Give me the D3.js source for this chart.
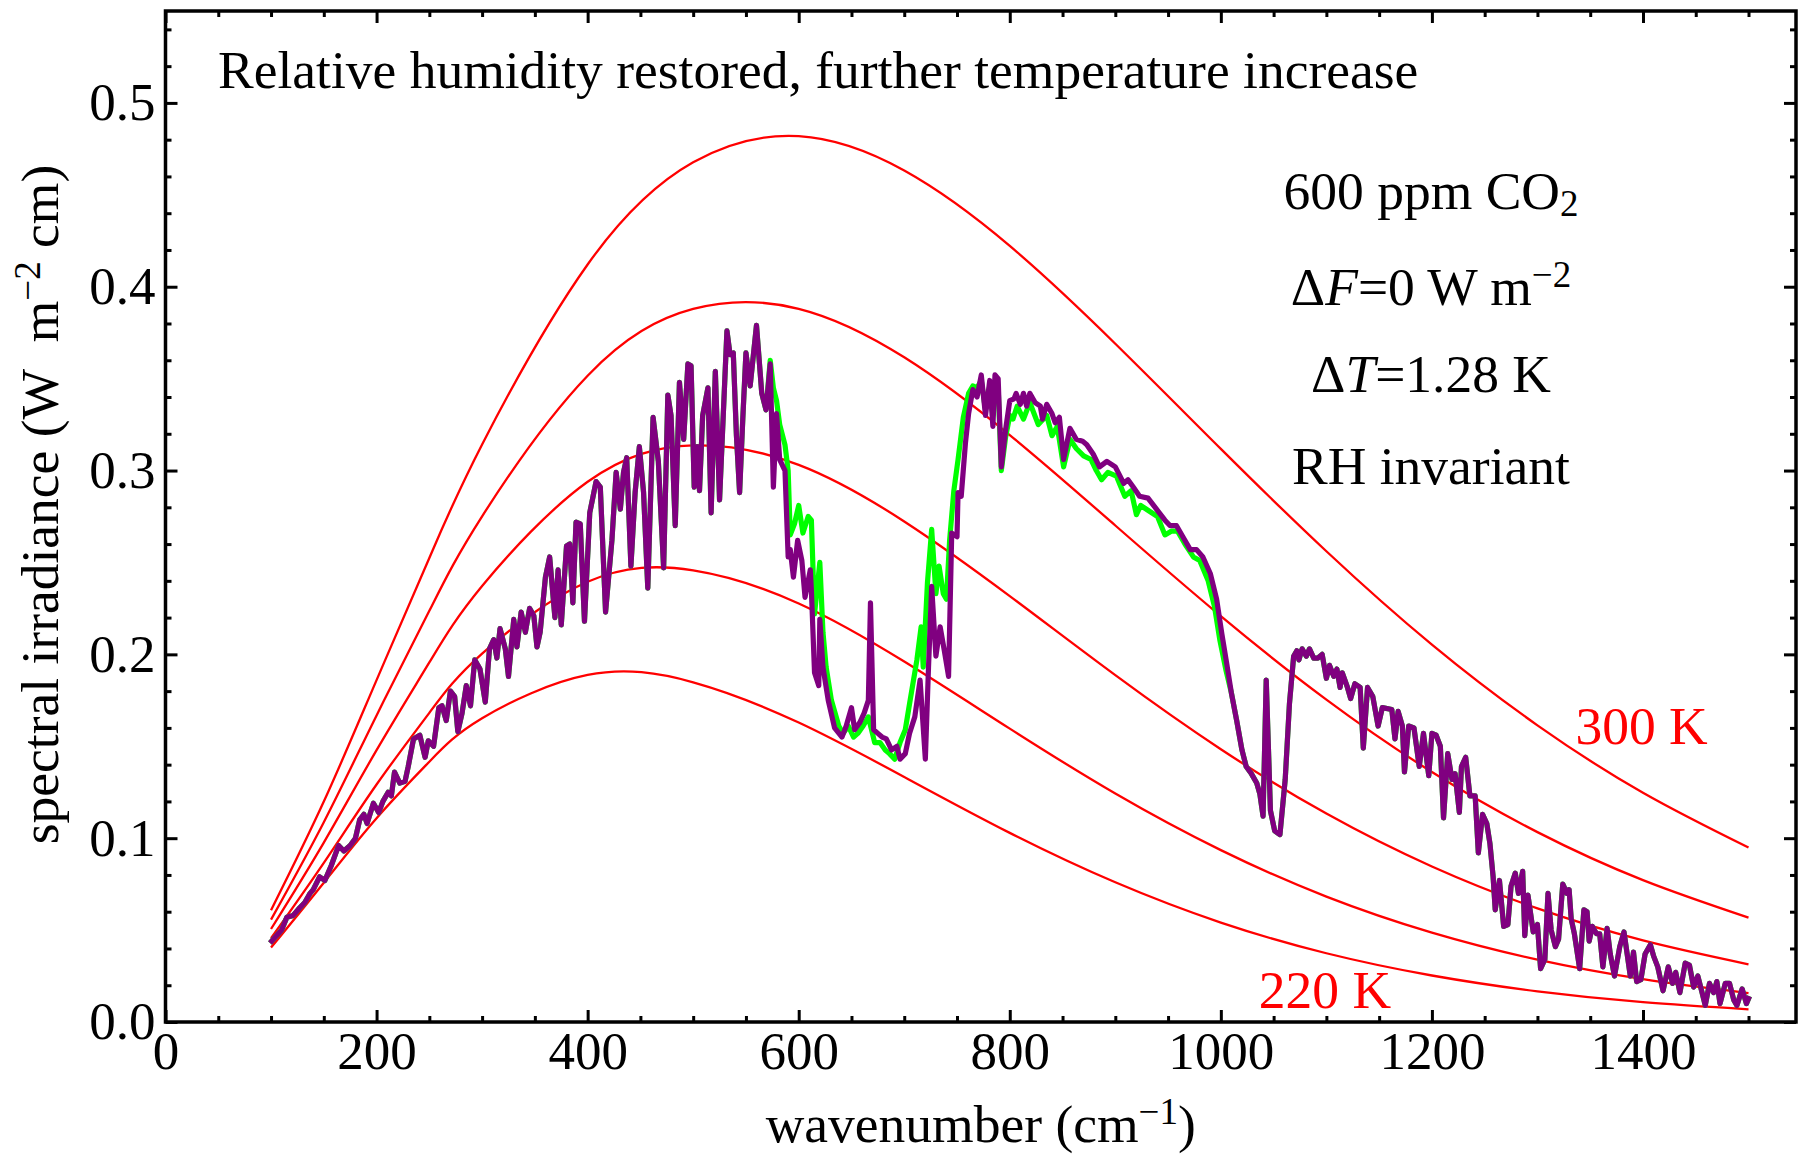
<!DOCTYPE html>
<html>
<head>
<meta charset="utf-8">
<script src="https://cdn.jsdelivr.net/npm/d3@7"></script>
<style>
  body { margin: 0; background: #fff; }
  text { font-family: "Liberation Serif", "Times New Roman", serif; }
</style>
</head>
<body>
<svg id="chart" width="1800" height="1157"></svg>
<script>
var bbWavenumber = [100,150,200,250,300,400,500,600,700,800,900,1000,1100,1200,1300,1400,1500];
var bb300 = [0.0608,0.1199,0.1860,0.2524,0.3142,0.4121,0.4677,0.4819,0.4632,0.4222,0.3690,0.3118,0.2561,0.2053,0.1614,0.1247,0.0949];
var bb280 = [0.0557,0.1087,0.1668,0.2237,0.2751,0.3516,0.3879,0.3880,0.3616,0.3193,0.2701,0.2208,0.1754,0.1360,0.1033,0.0772,0.0568];
var bb260 = [0.0506,0.0976,0.1479,0.1956,0.2372,0.2939,0.3137,0.3031,0.2723,0.2317,0.1887,0.1484,0.1134,0.0846,0.0618,0.0444,0.0314];
var bb240 = [0.0456,0.0866,0.1292,0.1682,0.2004,0.2395,0.2457,0.2277,0.1961,0.1596,0.1243,0.0935,0.0682,0.0486,0.0339,0.0233,0.0157];
var bb220 = [0.0405,0.0758,0.1109,0.1416,0.1652,0.1888,0.1848,0.1629,0.1333,0.1029,0.0760,0.0541,0.0374,0.0253,0.0167,0.0108,0.0069];

// purple spectrum: [wavenumber, spectral irradiance]
var purpleSpectrum = [
  [99,.043],[110,.050],[115,.057],[121,.058],[127,.062],[132,.065],[137,.070],[140,.072],[146,.079],[151,.077],
  [157,.085],[164,.096],[169,.093],[175,.096],[180,.100],[184,.110],[188,.113],[191,.108],[197,.119],[202,.114],
  [206,.120],[211,.125],[214,.123],[217,.136],[222,.130],[227,.131],[230,.139],[235,.154],[241,.156],[246,.144],
  [249,.153],[254,.150],[259,.171],[262,.172],[266,.164],[270,.180],[274,.177],[277,.158],[281,.168],[285,.183],
  [289,.172],[293,.197],[298,.192],[303,.174],[307,.203],[311,.208],[314,.198],[317,.214],[322,.203],[325,.188],
  [330,.219],[333,.204],[337,.223],[341,.212],[345,.225],[349,.221],[352,.204],[355,.212],[360,.242],[364,.253],
  [369,.220],[372,.246],[375,.216],[380,.259],[383,.260],[386,.228],[389,.272],[393,.271],[397,.218],[402,.277],
  [408,.294],[412,.291],[417,.223],[423,.262],[427,.299],[431,.279],[434,.299],[437,.307],[441,.248],[445,.288],
  [449,.313],[453,.288],[457,.236],[462,.329],[467,.305],[472,.247],[476,.341],[479,.330],[483,.270],[487,.348],
  [491,.317],[495,.358],[498,.357],[501,.291],[504,.313],[506,.289],[509,.330],[514,.345],[517,.277],[521,.354],
  [525,.284],[532,.376],[535,.363],[538,.364],[541,.319],[544,.288],[547,.328],[550,.364],[554,.346],[560,.379],
  [565,.342],[569,.333],[573,.358],[576,.291],[579,.331],[582,.306],[587,.300],[590,.253],[592,.257],[595,.242],
  [599,.262],[603,.251],[606,.231],[611,.246],[612,.235],[615,.190],[619,.183],[620,.219],[623,.193],[628,.175],
  [634,.160],[641,.155],[645,.161],[650,.171],[653,.159],[658,.163],[662,.168],[666,.175],[668,.228],[671,.159],
  [675,.157],[679,.155],[683,.154],[688,.148],[693,.150],[696,.143],[701,.146],[705,.157],[710,.166],[715,.186],
  [720,.143],[723,.193],[726,.237],[730,.199],[734,.215],[738,.202],[742,.188],[745,.266],[750,.264],[751,.288],
  [754,.286],[758,.315],[761,.331],[765,.344],[769,.340],[773,.352],[777,.330],[781,.349],[784,.324],[786,.352],
  [789,.350],[792,.302],[796,.322],[800,.338],[804,.339],[806,.342],[810,.336],[813,.342],[816,.335],[819,.342],
  [824,.337],[829,.335],[831,.328],[835,.336],[840,.331],[843,.326],[847,.329],[851,.306],[857,.323],[863,.317],
  [869,.316],[873,.314],[879,.309],[885,.302],[892,.305],[900,.302],[908,.293],[912,.295],[917,.291],[923,.286],
  [931,.285],[939,.279],[947,.273],[952,.270],[958,.270],[964,.264],[971,.257],[977,.257],[983,.253],[990,.244],
  [996,.230],[1001,.211],[1005,.197],[1010,.179],[1015,.164],[1020,.148],[1024,.139],[1029,.135],[1034,.130],[1037,.124],
  [1040,.112],[1043,.186],[1047,.115],[1051,.104],[1056,.102],[1061,.132],[1065,.173],[1069,.199],[1072,.202],[1074,.197],
  [1077,.203],[1081,.199],[1084,.203],[1088,.198],[1092,.198],[1096,.200],[1100,.187],[1103,.194],[1107,.188],[1110,.192],
  [1113,.182],[1115,.190],[1120,.182],[1123,.176],[1127,.184],[1132,.182],[1135,.149],[1139,.182],[1144,.177],[1149,.161],
  [1153,.171],[1162,.170],[1165,.154],[1168,.169],[1172,.161],[1174,.136],[1178,.161],[1183,.160],[1188,.139],[1192,.157],
  [1197,.134],[1200,.157],[1204,.156],[1208,.150],[1211,.111],[1215,.146],[1219,.132],[1222,.135],[1226,.114],[1228,.139],
  [1232,.144],[1236,.123],[1241,.123],[1244,.092],[1248,.113],[1252,.108],[1255,.097],[1258,.079],[1260,.061],[1264,.077],
  [1268,.052],[1272,.053],[1275,.074],[1279,.081],[1282,.070],[1286,.082],[1288,.047],[1291,.069],[1296,.049],[1300,.053],
  [1303,.029],[1307,.034],[1310,.070],[1313,.050],[1317,.041],[1320,.045],[1324,.075],[1328,.070],[1330,.072],[1332,.056],
  [1335,.048],[1340,.029],[1344,.061],[1347,.060],[1349,.044],[1352,.052],[1356,.048],[1359,.048],[1362,.030],[1366,.051],
  [1369,.037],[1373,.025],[1378,.041],[1382,.049],[1385,.037],[1388,.025],[1391,.038],[1394,.022],[1398,.023],[1402,.037],
  [1407,.042],[1410,.036],[1414,.030],[1419,.017],[1424,.030],[1428,.021],[1431,.027],[1435,.016],[1440,.032],[1444,.031],
  [1448,.019],[1452,.025],[1456,.016],[1459,.009],[1463,.021],[1467,.016],[1470,.022],[1473,.010],[1478,.021],[1482,.021],
  [1486,.012],[1489,.009],[1494,.018],[1498,.010],[1501,.014]
];

// green spectrum where it differs from the purple one (elsewhere both coincide)
var greenBand = [
  [569,.333],[573,.360],[576,.345],[579,.338],[582,.325],[587,.314],[590,.300],[592,.265],[596,.271],[600,.281],
  [604,.266],[609,.275],[612,.273],[615,.222],[620,.250],[623,.212],[626,.193],[631,.175],[638,.161],[642,.157],
  [647,.161],[652,.155],[656,.157],[661,.161],[666,.166],[669,.159],[672,.152],[677,.152],[682,.148],[686,.146],
  [691,.143],[696,.152],[701,.159],[705,.173],[712,.197],[716,.215],[718,.193],[722,.239],[726,.268],[730,.233],
  [733,.248],[737,.233],[740,.230],[743,.262],[747,.289],[751,.306],[756,.329],[761,.342],[765,.346],[769,.345],
  [773,.349],[777,.333],[781,.346],[784,.330],[786,.348],[789,.345],[792,.300],[796,.318],[800,.330],[803,.328],
  [807,.335],[813,.328],[819,.337],[827,.325],[835,.330],[840,.319],[845,.324],[851,.302],[857,.317],[863,.312],
  [870,.308],[877,.306],[882,.300],[887,.295],[893,.299],[901,.297],[909,.286],[915,.289],[920,.276],[924,.281],
  [932,.278],[940,.275],[947,.265],[953,.267],[959,.267],[966,.260],[974,.253],[980,.251],[988,.240],[994,.226],
  [999,.208],[1005,.191]
];

var xMajor = [0,200,400,600,800,1000,1200,1400];
var yMajor = [0,0.1,0.2,0.3,0.4,0.5];

var svg = d3.select("#chart"),
    plotLeft = 165.5, plotRight = 1796, plotTop = 11, plotBottom = 1022;

var x = d3.scaleLinear().domain([0, 1545]).range([plotLeft, plotRight]);
var y = d3.scaleLinear().domain([0, 0.55]).range([plotBottom, plotTop]);

// blackbody curves
var bbSeries = [bb300, bb280, bb260, bb240, bb220];
var bbLine = d3.line()
  .x(function(d, i) { return x(bbWavenumber[i]); })
  .y(function(d) { return y(d); })
  .curve(d3.curveNatural);

svg.append("g").selectAll("path")
  .data(bbSeries)
  .enter().append("path")
  .attr("d", bbLine)
  .attr("fill", "none")
  .attr("stroke", "#ff0000")
  .attr("stroke-width", 2.3);

// green spectrum: purple values outside the band, band values inside it
var bandLo = greenBand[0][0], bandHi = greenBand[greenBand.length - 1][0];
var greenSpectrum = purpleSpectrum.filter(function(d) { return d[0] < bandLo; })
  .concat(greenBand)
  .concat(purpleSpectrum.filter(function(d) { return d[0] > bandHi; }));

var specLine = d3.line()
  .x(function(d) { return x(d[0]); })
  .y(function(d) { return y(d[1]); });

svg.append("path")
  .datum(greenSpectrum)
  .attr("d", specLine)
  .attr("fill", "none")
  .attr("stroke", "#00ff00")
  .attr("stroke-width", 5.2)
  .attr("stroke-linejoin", "round");

svg.append("path")
  .datum(purpleSpectrum)
  .attr("d", specLine)
  .attr("fill", "none")
  .attr("stroke", "#800080")
  .attr("stroke-width", 5.2)
  .attr("stroke-linejoin", "round");

// frame
svg.append("rect")
  .attr("x", plotLeft).attr("y", plotTop)
  .attr("width", plotRight - plotLeft).attr("height", plotBottom - plotTop)
  .attr("fill", "none").attr("stroke", "#000").attr("stroke-width", 3.5);

var xMinor = d3.range(0, 1546, 50).filter(function(v) { return v % 200 !== 0; });
var yMinor = d3.range(0, 28).map(function(i) { return i * 0.02; })
  .filter(function(v) { return Math.round(v * 100) % 10 !== 0; });

function styleAxis(g) {
  g.select(".domain").remove();
  g.selectAll(".tick line").attr("stroke", "#000").attr("stroke-width", 3);
  g.selectAll("text")
    .style("font-family", '"Liberation Serif", "Times New Roman", serif')
    .style("font-size", "53px")
    .attr("fill", "#000");
}

svg.append("g").attr("transform", "translate(0," + plotBottom + ")")
  .call(d3.axisBottom(x).tickValues(xMajor).tickSize(-12).tickPadding(9).tickFormat(d3.format("d")))
  .call(styleAxis);
svg.append("g").attr("transform", "translate(0," + plotBottom + ")")
  .call(d3.axisBottom(x).tickValues(xMinor).tickSize(-6).tickFormat(""))
  .call(styleAxis);
svg.append("g").attr("transform", "translate(0," + plotTop + ")")
  .call(d3.axisTop(x).tickValues(xMajor).tickSize(-12).tickFormat(""))
  .call(styleAxis);
svg.append("g").attr("transform", "translate(0," + plotTop + ")")
  .call(d3.axisTop(x).tickValues(xMinor).tickSize(-6).tickFormat(""))
  .call(styleAxis);

svg.append("g").attr("transform", "translate(" + plotLeft + ",0)")
  .call(d3.axisLeft(y).tickValues(yMajor).tickSize(-12).tickPadding(10).tickFormat(d3.format(".1f")))
  .call(styleAxis);
svg.append("g").attr("transform", "translate(" + plotLeft + ",0)")
  .call(d3.axisLeft(y).tickValues(yMinor).tickSize(-6).tickFormat(""))
  .call(styleAxis);
svg.append("g").attr("transform", "translate(" + plotRight + ",0)")
  .call(d3.axisRight(y).tickValues(yMajor).tickSize(-12).tickFormat(""))
  .call(styleAxis);
svg.append("g").attr("transform", "translate(" + plotRight + ",0)")
  .call(d3.axisRight(y).tickValues(yMinor).tickSize(-6).tickFormat(""))
  .call(styleAxis);

// text
var fs = "53.5px";
function txt(xp, yp, anchor) {
  return svg.append("text").attr("x", xp).attr("y", yp)
    .attr("text-anchor", anchor).style("font-size", fs).attr("fill", "#000");
}

txt(218, 88, "start").text("Relative humidity restored, further temperature increase");

var cx = 1431;
var t1 = txt(cx, 209, "middle");
t1.append("tspan").text("600 ppm CO");
t1.append("tspan").attr("baseline-shift", "-18%").style("font-size", "37px").text("2");

var t2 = txt(cx, 305, "middle");
t2.append("tspan").text("\u0394");
t2.append("tspan").style("font-style", "italic").text("F");
t2.append("tspan").text("=0 W m");
t2.append("tspan").attr("baseline-shift", "48%").style("font-size", "37px").text("\u22122");

var t3 = txt(cx, 392, "middle");
t3.append("tspan").text("\u0394");
t3.append("tspan").style("font-style", "italic").text("T");
t3.append("tspan").text("=1.28 K");

txt(cx, 484, "middle").text("RH invariant");

txt(x(1336), y(0.151), "start").attr("fill", "#ff0000").text("300 K");
txt(x(1036), y(0.0076), "start").attr("fill", "#ff0000").text("220 K");

var xl = txt((plotLeft + plotRight) / 2, 1142, "middle");
xl.append("tspan").text("wavenumber (cm");
xl.append("tspan").attr("baseline-shift", "48%").style("font-size", "37px").text("\u22121");
xl.append("tspan").text(")");

var yl = svg.append("text")
  .attr("transform", "translate(58," + ((plotTop + plotBottom) / 2 - 12) + ") rotate(-90)")
  .attr("text-anchor", "middle").style("font-size", fs).attr("fill", "#000");
yl.append("tspan").text("spectral irradiance (W\u00a0\u00a0m");
yl.append("tspan").attr("baseline-shift", "48%").style("font-size", "37px").text("\u22122");
yl.append("tspan").text(" cm)");
</script>
</body>
</html>
